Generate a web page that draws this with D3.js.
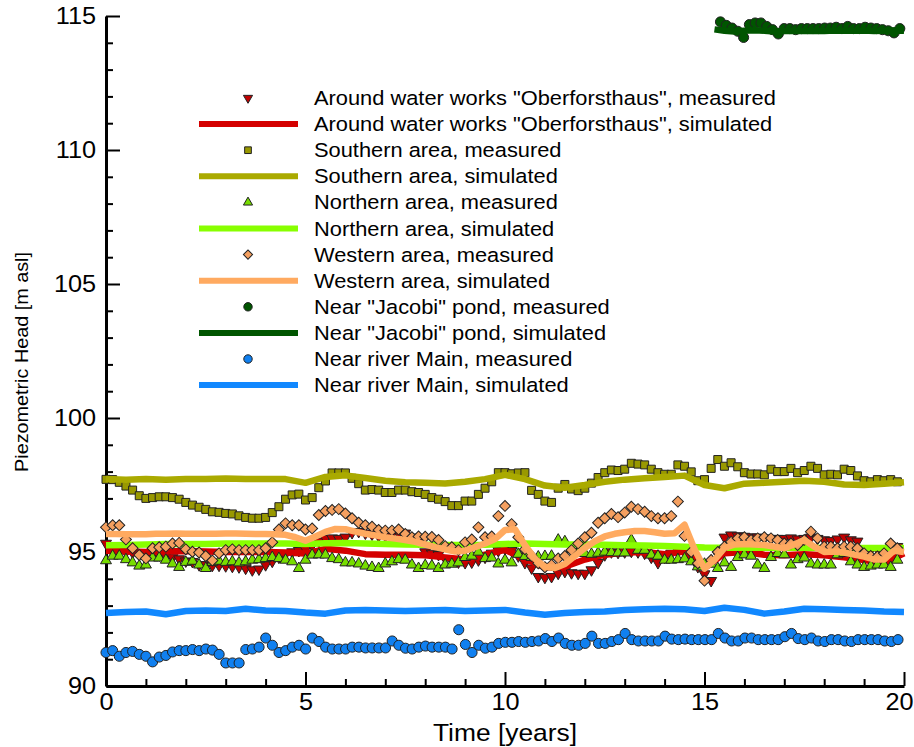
<!DOCTYPE html>
<html>
<head>
<meta charset="utf-8">
<script src="https://cdn.jsdelivr.net/npm/d3@7"></script>
<style>
  body { margin: 0; background: #fff; }
  svg text { font-family: "Liberation Sans", Arial, sans-serif; fill: #000; }
</style>
</head>
<body>
<div id="chart"></div>
<script>
// ---- data ----
const xTicks = [0, 5, 10, 15, 20];
const yTicks = [90, 95, 100, 105, 110, 115];

// measured series sampled every 1/6 year from t = 0
const oberMeasured = [95.32,95.10,95.05,95.00,94.98,94.95,94.92,94.90,94.88,94.85,94.80,94.74,94.66,94.64,94.52,94.52,94.50,94.50,94.48,94.46,94.44,94.39,94.33,94.36,94.52,94.65,94.80,94.92,95.00,95.05,95.10,95.25,95.40,95.50,95.52,95.50,95.55,95.72,95.76,95.70,95.66,95.60,95.60,95.65,95.72,95.70,95.55,95.40,95.00,94.95,94.90,94.75,94.68,94.62,94.60,94.62,94.70,94.80,94.95,95.05,95.12,
  95.05,94.85,94.60,94.40,94.08,94.05,94.08,94.20,94.27,94.22,94.20,94.20,94.33,94.60,94.89,95.00,94.98,95.00,95.02,95.00,94.95,94.80,94.60,94.80,94.95,95.05,95.00,94.80,94.45,94.18,93.93,94.90,95.55,95.63,95.60,95.58,95.56,95.55,95.52,95.50,95.50,95.50,95.52,95.48,95.50,95.55,95.50,95.45,95.42,95.48,95.55,95.45,95.40,95.10,95.08,95.10,95.12,95.15,95.20];
const southMeasured = [97.71,97.70,97.60,97.46,97.31,97.10,97.00,97.03,97.06,97.06,97.03,96.97,96.85,96.75,96.67,96.59,96.50,96.48,96.44,96.42,96.35,96.29,96.26,96.26,96.29,96.47,96.69,96.97,97.13,97.16,96.94,97.03,97.40,97.65,97.95,97.95,97.95,97.75,97.55,97.31,97.33,97.31,97.22,97.22,97.31,97.31,97.25,97.22,97.15,97.03,96.97,96.88,96.73,96.73,96.90,96.90,97.15,97.38,97.62,97.96,97.96,
  97.92,97.95,97.96,97.30,97.15,96.90,96.85,97.38,97.52,97.35,97.29,97.38,97.57,97.78,97.96,98.06,98.04,98.09,98.31,98.28,98.25,98.09,97.96,97.90,97.90,98.25,98.20,97.99,97.66,97.70,98.12,98.45,98.20,98.33,98.18,97.96,97.91,97.91,97.88,98.09,98.00,98.00,98.12,97.96,98.04,98.20,98.12,97.88,97.90,97.88,98.09,98.04,97.84,97.66,97.62,97.70,97.66,97.70,97.62];
const northMeasured = [94.68,94.85,94.85,94.72,94.60,94.48,94.52,94.78,94.78,94.70,94.56,94.43,94.62,94.66,94.52,94.39,94.62,94.66,94.62,94.64,94.60,94.64,94.70,94.72,94.76,94.80,94.76,94.70,94.64,94.39,94.70,94.89,94.90,94.89,94.76,94.72,94.60,94.60,94.56,94.48,94.43,94.39,94.56,94.64,94.72,94.70,94.52,94.39,94.50,94.48,94.39,94.52,94.55,94.60,94.80,94.85,95.00,94.76,94.78,94.56,94.70,
  94.60,94.92,94.84,94.80,94.82,94.84,94.85,95.45,95.39,95.10,95.00,94.95,94.92,94.96,95.00,94.98,94.97,94.97,95.45,95.07,95.07,94.89,94.85,94.70,94.70,94.72,94.75,94.64,94.45,94.55,94.55,94.39,94.60,94.43,94.80,94.90,94.85,94.52,94.39,94.80,94.95,94.90,94.52,94.72,94.78,94.56,94.52,94.52,94.52,94.90,94.95,94.64,94.52,94.43,94.48,94.52,94.52,94.43,94.70];
const westMeasured = [95.92,96.00,96.00,95.47,95.14,94.89,94.76,95.14,95.18,95.20,95.32,95.34,95.10,95.01,94.98,94.85,94.68,94.95,95.07,95.10,95.07,95.07,95.07,95.07,95.14,95.36,95.84,96.07,96.00,96.00,95.84,95.88,96.38,96.53,96.57,96.60,96.44,96.26,96.09,96.00,95.94,95.82,95.80,95.80,95.84,95.67,95.55,95.58,95.57,95.56,95.45,95.22,95.18,95.07,95.36,95.47,95.92,95.55,95.58,96.34,96.72,
  96.04,95.55,95.10,94.85,94.58,94.43,94.52,94.76,94.85,95.07,95.32,95.55,95.72,96.09,96.26,96.42,96.30,96.47,96.69,96.60,96.50,96.34,96.26,96.26,96.34,96.88,95.60,95.00,94.58,93.93,94.70,95.00,95.20,95.38,95.51,95.55,95.45,95.51,95.55,95.51,95.45,95.32,95.32,95.26,95.45,95.76,95.51,95.20,95.20,95.14,95.20,95.20,95.14,94.95,94.85,94.83,94.95,95.32,95.14];
const mainMeasured = [91.25,91.32,91.11,91.25,91.29,91.18,91.11,90.90,91.08,91.14,91.27,91.32,91.32,91.36,91.32,91.38,91.34,91.18,90.86,90.86,90.86,91.36,91.38,91.45,91.79,91.52,91.25,91.32,91.45,91.52,91.38,91.79,91.66,91.45,91.38,91.38,91.38,91.45,91.45,91.42,91.42,91.42,91.42,91.68,91.52,91.41,91.38,91.45,91.49,91.45,91.45,91.45,91.38,92.10,91.55,91.25,91.52,91.41,91.45,91.59,
  91.63,91.63,91.66,91.63,91.66,91.68,91.77,91.66,91.79,91.59,91.52,91.52,91.59,91.86,91.59,91.59,91.66,91.73,91.96,91.73,91.68,91.68,91.68,91.68,91.86,91.75,91.73,91.75,91.73,91.73,91.73,91.73,91.96,91.79,91.68,91.68,91.79,91.79,91.73,91.73,91.73,91.73,91.84,91.96,91.77,91.73,91.79,91.68,91.66,91.73,91.73,91.68,91.66,91.73,91.73,91.73,91.73,91.68,91.66,91.73];
// "Jacobi" pond measured: from t = 15.4, every 0.145 year
const jacobiMeasured = [114.78,114.65,114.55,114.43,114.20,114.68,114.74,114.74,114.61,114.49,114.33,114.53,114.53,114.49,114.53,114.53,114.53,114.53,114.55,114.55,114.58,114.53,114.61,114.53,114.53,114.58,114.55,114.53,114.49,114.45,114.37,114.53];

// simulated series sampled every 0.5 year from t = 0
const oberSimulated = [95.05,95.02,95.00,95.02,95.04,95.02,95.00,95.00,95.00,94.98,94.94,95.12,95.05,94.92,94.90,94.90,94.88,94.80,94.72,94.90,95.08,94.75,94.42,94.45,94.72,94.90,94.98,95.00,94.92,95.02,94.40,94.95,95.00,94.90,94.88,94.92,94.88,94.80,94.70,94.60,94.95];
const southSimulated = [97.72,97.70,97.72,97.70,97.72,97.72,97.74,97.72,97.72,97.72,97.58,97.80,97.86,97.76,97.66,97.60,97.58,97.56,97.62,97.72,97.88,97.72,97.48,97.40,97.50,97.62,97.70,97.75,97.80,97.85,97.50,97.38,97.55,97.58,97.62,97.66,97.62,97.52,97.50,97.55,97.60];
const northSimulated = [95.25,95.26,95.28,95.30,95.30,95.30,95.32,95.32,95.32,95.32,95.30,95.33,95.34,95.32,95.30,95.28,95.27,95.26,95.26,95.27,95.30,95.32,95.30,95.28,95.28,95.27,95.25,95.24,95.22,95.20,95.17,95.16,95.16,95.16,95.16,95.16,95.15,95.15,95.15,95.15,95.15];
const mainSimulated = [92.72,92.76,92.78,92.68,92.80,92.82,92.80,92.88,92.82,92.80,92.74,92.70,92.82,92.84,92.82,92.80,92.82,92.84,92.80,92.82,92.84,92.74,92.66,92.72,92.76,92.78,92.84,92.86,92.88,92.86,92.80,92.92,92.84,92.70,92.78,92.88,92.86,92.84,92.82,92.78,92.76];
// western simulated: every 0.25 year from t = 0
const westSimulated = [95.67,95.67,95.66,95.66,95.66,95.68,95.68,95.69,95.68,95.68,95.68,95.68,95.69,95.69,95.68,95.67,95.67,95.66,95.64,95.55,95.42,95.58,95.75,95.86,95.85,95.76,95.68,95.62,95.55,95.50,95.45,95.38,95.28,95.18,95.10,95.02,95.05,95.18,95.32,95.48,95.82,
  95.85,95.25,94.75,94.45,94.40,94.55,94.85,95.15,95.40,95.58,95.68,95.74,95.78,95.78,95.74,95.68,95.70,96.02,95.10,94.38,94.70,95.15,95.28,95.30,95.28,95.26,95.20,95.14,95.28,95.45,95.20,95.00,95.02,94.98,94.90,94.83,94.72,94.72,95.05,95.00];
// "Jacobi" pond simulated: every 0.25 year from t = 15.25
const jacobiSimulated = [114.50,114.45,114.42,114.45,114.47,114.45,114.42,114.44,114.45,114.44,114.45,114.44,114.46,114.45,114.45,114.46,114.44,114.45,114.46,114.45];

const seriesNames = [
  'Around water works "Oberforsthaus", measured',
  'Around water works "Oberforsthaus", simulated',
  "Southern area, measured",
  "Southern area, simulated",
  "Northern area, measured",
  "Northern area, simulated",
  "Western area, measured",
  "Western area, simulated",
  'Near "Jacobi" pond, measured',
  'Near "Jacobi" pond, simulated',
  "Near river Main, measured",
  "Near river Main, simulated"
];

// ---- layout ----
const W = 914, H = 747;
const plot = { left: 106, right: 904, top: 16, bottom: 686 };
const stretch = 1.1; // the original font is a bit wider than Arial

const svg = d3.select("#chart").append("svg")
  .attr("width", W).attr("height", H);

const x = d3.scaleLinear().domain([0, 20]).range([plot.left, plot.right]);
const y = d3.scaleLinear().domain([90, 115]).range([plot.bottom, plot.top]);

function withTime(values, start, step){
  return values.map((v, i) => ({ t: start + i * step, v }));
}

const series = [
  { name: seriesNames[0], kind: "marker", shape: "triDown", fill: "#c00000", data: withTime(oberMeasured, 0, 1/6) },
  { name: seriesNames[1], kind: "line", color: "#d40000", data: withTime(oberSimulated, 0, 0.5) },
  { name: seriesNames[2], kind: "marker", shape: "square", fill: "#999900", data: withTime(southMeasured, 0, 1/6) },
  { name: seriesNames[3], kind: "line", color: "#aaaa00", data: withTime(southSimulated, 0, 0.5) },
  { name: seriesNames[4], kind: "marker", shape: "triUp", fill: "#77dd00", data: withTime(northMeasured, 0, 1/6) },
  { name: seriesNames[5], kind: "line", color: "#88ff00", data: withTime(northSimulated, 0, 0.5) },
  { name: seriesNames[6], kind: "marker", shape: "diamond", fill: "#f5a060", data: withTime(westMeasured, 0, 1/6) },
  { name: seriesNames[7], kind: "line", color: "#ffaa60", data: withTime(westSimulated, 0, 0.25) },
  { name: seriesNames[8], kind: "marker", shape: "circle", fill: "#005500", data: withTime(jacobiMeasured, 15.4, 0.145) },
  { name: seriesNames[9], kind: "line", color: "#005500", data: withTime(jacobiSimulated, 15.25, 0.25) },
  { name: seriesNames[10], kind: "marker", shape: "circle", fill: "#1080f0", data: withTime(mainMeasured, 0, 19.85 / 119) },
  { name: seriesNames[11], kind: "line", color: "#1188ff", data: withTime(mainSimulated, 0, 0.5) }
];

// ---- axes ----
const axisG = svg.append("g");

const yAxis = axisG.append("g")
  .attr("transform", `translate(${plot.left},0)`)
  .call(d3.axisLeft(y).tickValues(yTicks).tickSize(-14).tickSizeOuter(0).tickPadding(9).tickFormat(d3.format("d")));
const yMinor = axisG.append("g")
  .attr("transform", `translate(${plot.left},0)`)
  .call(d3.axisLeft(y).tickValues(d3.range(90, 116).filter(d => d % 5 !== 0)).tickSize(-7).tickSizeOuter(0).tickFormat(""));

const xAxis = axisG.append("g")
  .attr("transform", `translate(0,${plot.bottom})`)
  .call(d3.axisBottom(x).tickValues(xTicks).tickSize(-14).tickSizeOuter(0).tickPadding(8).tickFormat(d3.format("d")));
const xMinor = axisG.append("g")
  .attr("transform", `translate(0,${plot.bottom})`)
  .call(d3.axisBottom(x).tickValues(d3.range(0, 21).filter(d => d % 5 !== 0)).tickSize(-7).tickSizeOuter(0).tickFormat(""));

axisG.selectAll(".domain").attr("stroke", "#000").attr("stroke-width", 3);
axisG.selectAll(".tick line").attr("stroke", "#000").attr("stroke-width", 2);
axisG.selectAll(".tick text")
  .attr("font-size", 23)
  .attr("fill", "#000")
  .attr("transform", `scale(${stretch},1)`);
// last x label sits at the window edge; pull it in so it stays readable
xAxis.selectAll(".tick text").filter(d => d === 20)
  .attr("transform", `translate(-5,0) scale(${stretch},1)`);
yMinor.select(".domain").remove();
xMinor.select(".domain").remove();

svg.append("text")
  .attr("transform", `translate(${(plot.left + plot.right) / 2},741) scale(${stretch},1)`)
  .attr("text-anchor", "middle")
  .attr("font-size", 24)
  .text("Time [years]");

svg.append("text")
  .attr("transform", `translate(28,362) rotate(-90) scale(${stretch},1)`)
  .attr("text-anchor", "middle")
  .attr("font-size", 18)
  .text("Piezometric Head [m asl]");

// ---- marks ----
const symbolType = { square: d3.symbolSquare, diamond: d3.symbolSquare, triUp: d3.symbolTriangle, triDown: d3.symbolTriangle, circle: d3.symbolCircle };
const symbolSize = { square: 64, diamond: 60, triUp: 52, triDown: 52, circle: 80 };
const symbolRotate = { square: 0, diamond: 45, triUp: 0, triDown: 180, circle: 0 };

const line = d3.line().x(d => x(d.t)).y(d => y(d.v));
const dataG = svg.append("g");

series.forEach(s => {
  if(s.kind === "line"){
    dataG.append("path")
      .datum(s.data)
      .attr("fill", "none")
      .attr("stroke", s.color)
      .attr("stroke-width", 6.5)
      .attr("stroke-linejoin", "round")
      .attr("d", line);
  }
  else{
    const path = d3.symbol(symbolType[s.shape], symbolSize[s.shape])();
    dataG.append("g").selectAll("path")
      .data(s.data)
      .enter().append("path")
        .attr("d", path)
        .attr("transform", d => `translate(${x(d.t)},${y(d.v)}) rotate(${symbolRotate[s.shape]})`)
        .attr("fill", s.fill)
        .attr("stroke", "#222")
        .attr("stroke-width", 1);
  }
});

// ---- legend ----
const legend = svg.append("g");
const rowY0 = 98, rowGap = 26.1;
series.forEach((s, i) => {
  const ry = rowY0 + i * rowGap;
  if(s.kind === "line"){
    legend.append("line")
      .attr("x1", 199).attr("x2", 298)
      .attr("y1", ry).attr("y2", ry)
      .attr("stroke", s.color).attr("stroke-width", 6);
  }
  else{
    legend.append("path")
      .attr("d", d3.symbol(symbolType[s.shape], symbolSize[s.shape] * 0.7)())
      .attr("transform", `translate(248,${ry}) rotate(${symbolRotate[s.shape]})`)
      .attr("fill", s.fill)
      .attr("stroke", "#222")
      .attr("stroke-width", 1);
  }
  legend.append("text")
    .attr("transform", `translate(314,${ry + 7}) scale(1.12,1)`)
    .attr("font-size", 19.5)
    .text(s.name);
});
</script>
</body>
</html>
